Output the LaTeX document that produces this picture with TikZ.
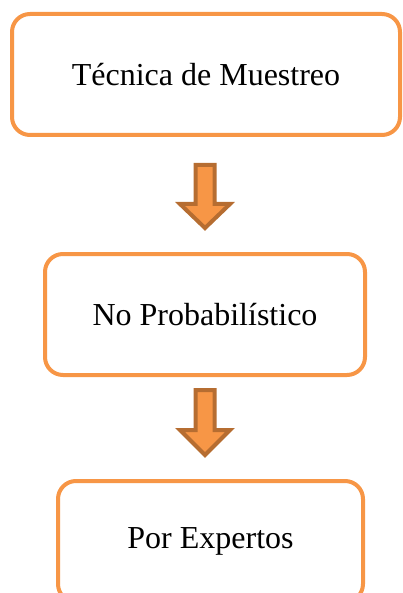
\documentclass[tikz,border=0pt]{standalone}
\usepackage{fontspec}
\setmainfont{Liberation Serif}
\usetikzlibrary{positioning}
\usepackage{xcolor}
\definecolor{boxOrange}{HTML}{F79646}
\definecolor{arrowEdge}{HTML}{B66D31}

\begin{document}
\begin{tikzpicture}[x=1pt, y=-1pt,
    stageBox/.style={rectangle, rounded corners=18pt, draw=boxOrange, fill=white, line width=4pt, minimum height=121pt, inner sep=0pt, font=\fontsize{32}{38}\selectfont},
    blockArrow/.style={draw=arrowEdge, fill=boxOrange, line width=4pt, line join=miter}
]
    \clip (0,0) rectangle (403,593);

    \node[stageBox, minimum width=388pt] (tecnica) at (206, 74.5) {Técnica de Muestreo};
    \node[stageBox, minimum width=320pt] (noprob) at (205, 314.5) {No Probabilístico};
    \node[stageBox, minimum width=305pt] (expertos) at (210.5, 541.5) {Por Expertos};

    % block arrows between the stages
    \coordinate (arrowA) at (205, 165);
    \coordinate (arrowB) at (205, 390);
    \draw[blockArrow] (arrowA) ++(-9.5,0) -- ++(19,0) -- ++(0,39) -- ++(15.5,0)
        -- ++(-25,24) -- ++(-25,-24) -- ++(15.5,0) -- cycle;
    \draw[blockArrow] (arrowB) ++(-9.5,0) -- ++(19,0) -- ++(0,40) -- ++(15.5,0)
        -- ++(-25,25) -- ++(-25,-25) -- ++(15.5,0) -- cycle;
\end{tikzpicture}
\end{document}
